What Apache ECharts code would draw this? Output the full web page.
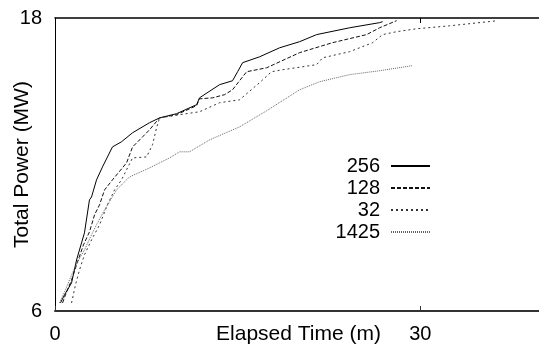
<!DOCTYPE html>
<html><head><meta charset="utf-8">
<script src="https://cdn.jsdelivr.net/npm/echarts@6/dist/echarts.min.js"></script>
<style>html,body{margin:0;padding:0;background:#fff}#c{width:539px;height:344px}</style>
</head><body><div id="c"></div>
<script>
const seriesNames = ['256', '128', '32', '1425'];
const s256 = [[0.45,6.33],[0.78,6.66],[1.36,7.15],[1.77,8.09],[2.18,8.79],[2.42,9.20],[2.83,10.55],[3.0,10.67],[3.41,11.37],[3.90,11.90],[4.72,12.72],[5.46,12.93],[6.37,13.30],[7.76,13.71],[8.59,13.91],[9.98,14.08],[11.63,14.45],[11.87,14.73],[13.52,15.27],[14.58,15.43],[15.0,15.80],[15.41,16.17],[16.80,16.41],[18.45,16.78],[20.09,17.03],[21.49,17.32],[24.2,17.60],[26.67,17.81],[26.91,17.85]];
const s128 = [[0.62,6.33],[0.86,6.66],[1.36,7.27],[1.85,8.01],[2.34,8.71],[2.83,9.24],[3.25,9.94],[3.66,10.35],[4.07,10.96],[4.72,11.37],[5.88,12.07],[6.37,12.72],[7.19,13.13],[7.76,13.42],[8.59,13.91],[9.98,14.04],[11.63,14.41],[11.87,14.69],[12.94,14.73],[13.93,14.86],[14.58,15.06],[15.41,15.59],[15.74,15.80],[17.38,15.96],[20.09,16.58],[22.80,16.99],[25.6,17.32],[26.66,17.60],[28.06,17.89]];
const s32 = [[1.36,6.33],[1.68,7.07],[2.01,7.68],[2.42,8.30],[3.0,8.91],[3.66,9.53],[4.31,10.35],[4.89,10.96],[5.46,11.37],[6.37,12.27],[7.52,12.31],[8.01,12.81],[8.34,13.50],[8.59,13.91],[10.23,14.04],[11.87,14.16],[13.52,14.53],[15.16,14.65],[16.80,15.35],[17.79,15.80],[18.69,15.88],[21.49,16.09],[21.98,16.37],[24.2,16.62],[26.09,16.99],[26.91,17.32],[28.06,17.44],[29.7,17.56],[32.42,17.68],[36.36,17.89]];
const s1425 = [[0.37,6.33],[0.86,6.86],[1.36,7.48],[1.85,8.01],[2.42,8.50],[3.0,9.12],[3.41,9.53],[4.07,10.14],[5.05,10.96],[6.12,11.49],[7.76,11.86],[9.41,12.27],[10.23,12.52],[11.05,12.52],[12.70,13.01],[15.16,13.54],[17.38,14.20],[20.09,15.06],[21.73,15.39],[24.2,15.68],[26.66,15.84],[29.37,16.05]];
const xTickLabels = [0, 30];
const yTickLabels = [6, 18];

const font = 'Liberation Sans, Arial, Helvetica, sans-serif';
const chart = echarts.init(document.getElementById('c'), null, {renderer: 'canvas'});
const mk = (name, data, color, type, width) => ({
  name, type: 'line', data, symbol: 'none', showSymbol: false, animation: false,
  lineStyle: {color, type, width}, itemStyle: {color}
});
chart.setOption({
  animation: false,
  backgroundColor: '#fff',
  grid: {left: 55, right: -3, top: 18, bottom: 33, containLabel: false, outerBoundsMode: 'none'},
  xAxis: [{
    type: 'value', min: 0, max: 40, interval: 30, position: 'bottom',
    axisLine: {show: true, lineStyle: {color: '#333', width: 2}},
    axisTick: {show: true, inside: true, length: 5, lineStyle: {color: '#333'}},
    axisLabel: {fontFamily: font, fontSize: 20, color: '#000', margin: 13,
      formatter: v => xTickLabels.includes(v) ? String(v) : ''},
    splitLine: {show: false},
    name: 'Elapsed Time (m)', nameLocation: 'middle', nameGap: 13, nameMoveOverlap: false,
    nameTextStyle: {fontFamily: font, fontSize: 21, color: '#000', verticalAlign: 'top'}
  }, {
    type: 'value', min: 0, max: 40, interval: 30, position: 'top',
    axisLine: {show: true, lineStyle: {color: '#000', width: 1.5}},
    axisTick: {show: true, inside: true, length: 5, lineStyle: {color: '#000'}},
    axisLabel: {show: false}, splitLine: {show: false}
  }],
  yAxis: [{
    type: 'value', min: 6, max: 18, interval: 12,
    axisLine: {show: true, lineStyle: {color: '#000', width: 1}},
    axisTick: {show: false},
    axisLabel: {fontFamily: font, fontSize: 20, color: '#000', margin: 13,
      formatter: v => yTickLabels.includes(v) ? String(v) : ''},
    splitLine: {show: false},
    name: 'Total Power (MW)', nameLocation: 'middle', nameGap: 22, nameRotate: 90, nameMoveOverlap: false,
    nameTextStyle: {fontFamily: font, fontSize: 21, color: '#000'}
  }],
  legend: {
    show: true, orient: 'vertical', left: 327, top: 151, align: 'right',
    itemWidth: 39, itemHeight: 10, itemGap: 2, itemTextGap: 8,
    itemStyle: {opacity: 0},
    textStyle: {fontFamily: font, fontSize: 20, color: '#000', width: 48, align: 'right', lineHeight: 20, padding: [0, 6, 0, 0]},
    data: seriesNames
  },
  series: [
    mk(seriesNames[0], s256, '#000', 'solid', 1),
    mk(seriesNames[1], s128, '#111', [4, 2], 1),
    mk(seriesNames[2], s32, '#333', [2, 3], 1),
    mk(seriesNames[3], s1425, '#666', [1, 1], 1)
  ]
});
</script></body></html>
